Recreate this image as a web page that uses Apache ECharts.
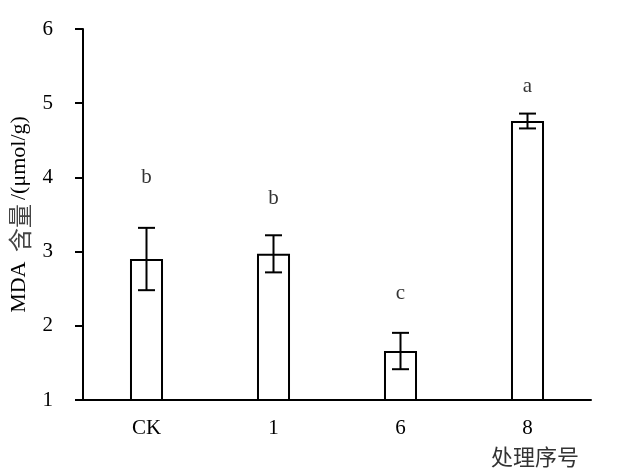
<!DOCTYPE html>
<html>
<head>
<meta charset="utf-8">
<script src="https://cdn.jsdelivr.net/npm/echarts@6/dist/echarts.min.js"></script>
<style>html,body{margin:0;padding:0;background:#fff}#c{width:617px;height:472px}</style>
</head>
<body>
<div id="c"></div>
<script>
var categories = ['CK', '1', '6', '8'];
var means = [2.90, 2.97, 1.66, 4.76];
var errors = [0.42, 0.25, 0.245, 0.10];
var letters = ['b', 'b', 'c', 'a'];
var letterPos = [4.0, 3.72, 2.43, 5.22];
var yTicks = [1, 2, 3, 4, 5, 6];

var serif = '"Times New Roman", "Liberation Serif", "Noto Sans CJK SC", serif';
var chart = echarts.init(document.getElementById('c'));
chart.setOption({
  animation: false,
  backgroundColor: '#fff',
  grid: {left: 83, right: 26, top: 29, bottom: 72, containLabel: false, outerBoundsMode: 'none'},
  xAxis: {
    type: 'category',
    data: categories,
    boundaryGap: true,
    axisLine: {lineStyle: {color: '#000', width: 2}},
    axisTick: {inside: true, length: 8, lineStyle: {color: '#000', width: 2}},
    axisLabel: {color: '#000', fontFamily: serif, fontSize: 21, margin: 18}
  },
  yAxis: {
    type: 'value',
    min: yTicks[0], max: yTicks[yTicks.length - 1], interval: 1,
    axisLine: {show: true, lineStyle: {color: '#000', width: 2}},
    axisTick: {show: true, length: 8, lineStyle: {color: '#000', width: 2}},
    splitLine: {show: false},
    axisLabel: {color: '#000', fontFamily: serif, fontSize: 21, margin: 30},
    name: '{a|MDA }{c|含量}{a|/(μmol/g)}',
    nameLocation: 'middle',
    nameGap: 49,
    nameTextStyle: {
      color: '#000', fontFamily: serif, fontSize: 22,
      rich: {
        a: {fontFamily: serif, fontSize: 22, color: '#000'},
        c: {fontFamily: '"Noto Sans CJK SC", sans-serif', fontSize: 24, color: '#444', padding: [0, 4, 0, 4]}
      }
    }
  },
  graphic: [{
    type: 'text', left: 491, top: 446,
    style: {text: '处理序号', fill: '#333', font: '22px "Noto Sans CJK SC", sans-serif'}
  }],
  series: [
    {
      type: 'bar',
      data: means,
      barWidth: '26%',
      itemStyle: {color: '#fff', borderColor: '#000', borderWidth: 2},
      clip: true
    },
    {
      type: 'custom',
      data: means.map(function (m, i) { return [i, m - errors[i], m + errors[i]]; }),
      renderItem: function (params, api) {
        var lo = api.coord([api.value(0), api.value(1)]);
        var hi = api.coord([api.value(0), api.value(2)]);
        var hw = 8.5;
        var st = {stroke: '#000', lineWidth: 2};
        return {type: 'group', children: [
          {type: 'line', shape: {x1: lo[0], y1: lo[1], x2: hi[0], y2: hi[1]}, style: st},
          {type: 'line', shape: {x1: lo[0] - hw, y1: lo[1], x2: lo[0] + hw, y2: lo[1]}, style: st},
          {type: 'line', shape: {x1: hi[0] - hw, y1: hi[1], x2: hi[0] + hw, y2: hi[1]}, style: st}
        ]};
      },
      z: 5
    },
    {
      type: 'scatter',
      data: letterPos.map(function (v, i) { return [i, v]; }),
      symbolSize: 0,
      label: {
        show: true, position: 'inside',
        formatter: function (p) { return letters[p.dataIndex]; },
        color: '#000', fontFamily: serif, fontSize: 21
      }
    }
  ]
});
</script>
</body>
</html>
